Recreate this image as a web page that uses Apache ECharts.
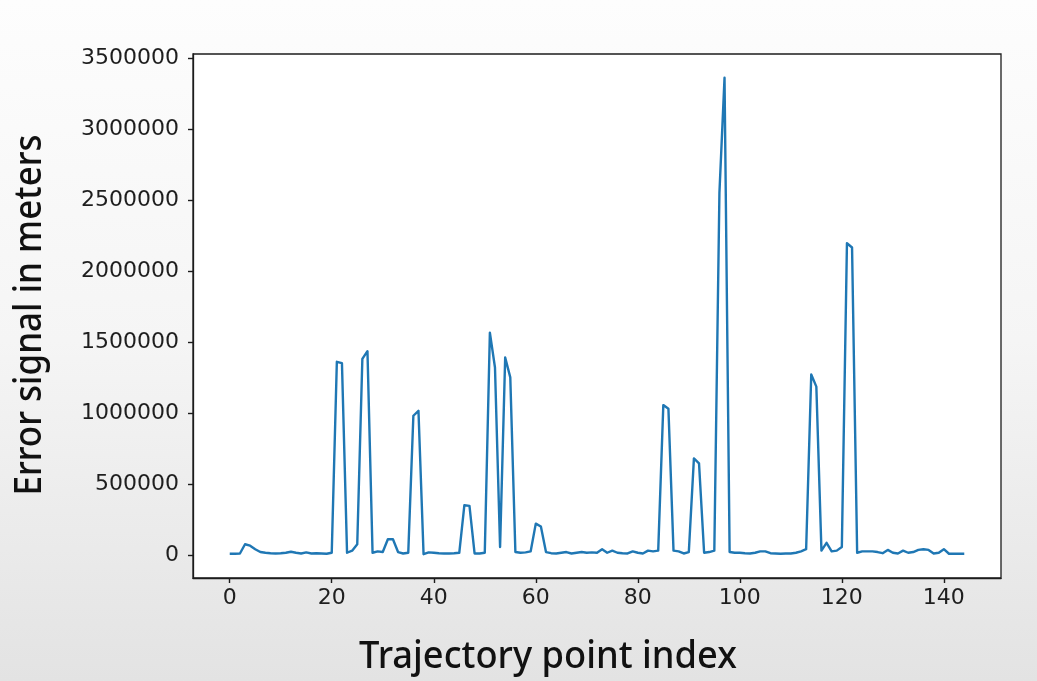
<!DOCTYPE html>
<html>
<head>
<meta charset="utf-8">
<title>Error signal along trajectory</title>
<script src="https://cdn.jsdelivr.net/npm/echarts@6/dist/echarts.min.js"></script>
<style>
  html, body { margin: 0; padding: 0; }
  #chart { width: 1037px; height: 681px; }
</style>
</head>
<body>
<div id="chart"></div>
<script>
// Error signal (meters) at each trajectory point, index 0..144
const errorMeters = [
  8000, 8000, 10000, 75000, 65000, 40000, 20000, 15000, 12000, 10000,
  12000, 15000, 22000, 15000, 10000, 18000, 10000, 12000, 10000, 8000,
  15000, 1360000, 1350000, 15000, 30000, 75000, 1380000, 1435000, 15000, 25000,
  20000, 110000, 110000, 20000, 10000, 15000, 980000, 1015000, 5000, 18000,
  15000, 12000, 10000, 10000, 12000, 15000, 350000, 345000, 10000, 10000,
  15000, 1565000, 1320000, 55000, 1390000, 1250000, 20000, 15000, 18000, 25000,
  220000, 200000, 20000, 12000, 10000, 15000, 20000, 10000, 15000, 20000,
  15000, 18000, 15000, 40000, 15000, 30000, 15000, 12000, 10000, 25000,
  15000, 10000, 30000, 25000, 30000, 1055000, 1030000, 30000, 25000, 10000,
  20000, 680000, 645000, 15000, 20000, 30000, 2550000, 3360000, 20000, 15000,
  15000, 12000, 10000, 15000, 25000, 25000, 12000, 10000, 8000, 10000,
  10000, 15000, 25000, 40000, 1270000, 1185000, 30000, 85000, 25000, 30000,
  55000, 2195000, 2165000, 15000, 25000, 25000, 25000, 20000, 12000, 35000,
  15000, 10000, 30000, 15000, 20000, 35000, 40000, 35000, 10000, 15000,
  40000, 8000, 8000, 8000, 8000
];

// Tick marks shown on each axis
const xTicks = [0, 20, 40, 60, 80, 100, 120, 140];
const yTicks = [0, 500000, 1000000, 1500000, 2000000, 2500000, 3000000, 3500000];

// Axis titles
const xTitle = 'Trajectory point index';
const yTitle = 'Error signal in meters';

// Plot limits with a 5% pad around the data
const nPts = errorMeters.length;
const yMaxData = Math.max(...errorMeters);
const yMinData = Math.min(...errorMeters);
const xPad = (nPts - 1) * 0.05;
const yPad = (yMaxData - yMinData) * 0.05;

const seriesData = errorMeters.map((v, i) => [i, v]);

const tickFont = { fontFamily: 'DejaVu Sans', fontSize: 22, color: '#1e1e1e' };
const titleFont = '"Noto Sans", "DejaVu Sans", sans-serif';
const frameColor = '#1c1c1c';

const chart = echarts.init(document.getElementById('chart'), null, { renderer: 'canvas' });

chart.setOption({
  animation: false,
  backgroundColor: 'transparent',
  graphic: [
    {
      type: 'rect',
      z: -100,
      silent: true,
      shape: { x: 0, y: 0, width: 1037, height: 681 },
      style: {
        fill: new echarts.graphic.LinearGradient(0, 0, 0, 1, [
          { offset: 0, color: '#fdfdfd' },
          { offset: 0.5, color: '#f5f5f5' },
          { offset: 1, color: '#e3e3e3' }
        ])
      }
    },
    {
      type: 'text',
      x: 30, y: 315,
      rotation: Math.PI / 2,
      scaleX: 0.92,
      style: {
        text: yTitle,
        font: '500 38px ' + titleFont,
        fill: '#111',
        textAlign: 'center',
        textVerticalAlign: 'middle'
      }
    },
    {
      type: 'text',
      x: 548, y: 657,
      scaleX: 0.955,
      style: {
        text: xTitle,
        font: '500 38px ' + titleFont,
        fill: '#111',
        textAlign: 'center',
        textVerticalAlign: 'middle'
      }
    }
  ],
  grid: {
    left: 193, right: 36, top: 54, bottom: 103,
    show: true,
    backgroundColor: '#ffffff',
    borderColor: frameColor,
    borderWidth: 1.3
  },
  xAxis: {
    type: 'value',
    min: -xPad,
    max: nPts - 1 + xPad,
    splitLine: { show: false },
    axisLine: { show: true, onZero: false, lineStyle: { color: frameColor, width: 1.3 } },
    axisTick: { show: true, length: 5, customValues: xTicks, lineStyle: { color: frameColor, width: 1.4 } },
    axisLabel: { customValues: xTicks, margin: 9, ...tickFont }
  },
  yAxis: {
    type: 'value',
    min: yMinData - yPad,
    max: yMaxData + yPad,
    splitLine: { show: false },
    axisLine: { show: true, onZero: false, lineStyle: { color: frameColor, width: 1.3 } },
    axisTick: { show: true, length: 5, customValues: yTicks, lineStyle: { color: frameColor, width: 1.4 } },
    axisLabel: { customValues: yTicks, margin: 14, formatter: v => String(v), ...tickFont }
  },
  series: [
    {
      type: 'line',
      data: seriesData,
      showSymbol: false,
      symbol: 'none',
      lineStyle: { color: '#1f77b4', width: 2.4, join: 'round' }
    }
  ]
});
</script>
</body>
</html>
